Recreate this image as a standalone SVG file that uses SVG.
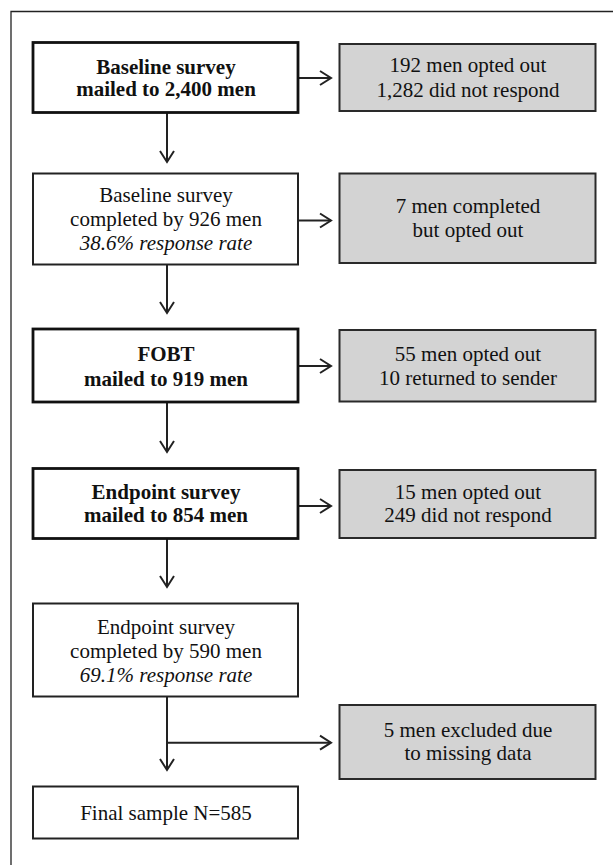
<svg xmlns="http://www.w3.org/2000/svg" width="613" height="865" viewBox="0 0 613 865">
<style>
text{font-family:"Liberation Serif","Times New Roman",serif;font-size:21px;fill:#111;text-anchor:middle}
.b{font-weight:bold}
.i{font-style:italic}
.thick{fill:#fff;stroke:#111;stroke-width:2.8}
.thin{fill:#fff;stroke:#222;stroke-width:2}
.gray{fill:#d3d3d3;stroke:#2a2a2a;stroke-width:2}
.conn{fill:none;stroke:#222;stroke-width:2;marker-end:url(#arr)}
</style>
<defs>
<marker id="arr" markerUnits="userSpaceOnUse" markerWidth="16" markerHeight="18" viewBox="0 0 16 18" refX="13" refY="9" orient="auto">
<path d="M2,2 L13,9 L2,16" fill="none" stroke="#222" stroke-width="2"/>
</marker>
</defs>
<rect width="613" height="865" fill="#fff"/>
<path d="M11,865 V11.5 H613" fill="none" stroke="#222" stroke-width="1.3"/>
<g id="connectors">
<path class="conn" d="M299,78 H331"/>
<path class="conn" d="M299,220.5 H331"/>
<path class="conn" d="M299,366 H331"/>
<path class="conn" d="M299,506 H331"/>
<path class="conn" d="M167,112 V162"/>
<path class="conn" d="M167,264 V313"/>
<path class="conn" d="M167,402 V452"/>
<path class="conn" d="M167,538 V587"/>
<path class="conn" d="M167,697 V770"/>
<path class="conn" d="M167,742.7 H331"/>
</g>
<g id="n1"><rect class="thick" x="33" y="42.5" width="265" height="70"/>
<text class="b" x="166" y="73.5">Baseline survey</text><text class="b" x="166" y="96">mailed to 2,400 men</text></g>
<g id="g1"><rect class="gray" x="339.5" y="44" width="256" height="67"/>
<text x="468" y="72">192 men opted out</text><text x="468" y="96.5">1,282 did not respond</text></g>
<g id="n2"><rect class="thin" x="33" y="173.5" width="265" height="91"/>
<text x="166" y="201.5">Baseline survey</text><text x="166" y="226">completed by 926 men</text><text class="i" x="166" y="250">38.6% response rate</text></g>
<g id="g2"><rect class="gray" x="339.5" y="173.5" width="256" height="89.5"/>
<text x="468" y="213.3">7 men completed</text><text x="468" y="237.3">but opted out</text></g>
<g id="n3"><rect class="thick" x="33" y="329" width="265" height="73"/>
<text class="b" x="166" y="361">FOBT</text><text class="b" x="166" y="386">mailed to 919 men</text></g>
<g id="g3"><rect class="gray" x="339.5" y="330" width="256" height="71.5"/>
<text x="468" y="361">55 men opted out</text><text x="468" y="384.5">10 returned to sender</text></g>
<g id="n4"><rect class="thick" x="33" y="468.5" width="265" height="70"/>
<text class="b" x="166" y="498.5">Endpoint survey</text><text class="b" x="166" y="521.7">mailed to 854 men</text></g>
<g id="g4"><rect class="gray" x="339.5" y="470" width="256" height="68"/>
<text x="468" y="498.5">15 men opted out</text><text x="468" y="521.7">249 did not respond</text></g>
<g id="n5"><rect class="thin" x="33" y="603.5" width="265" height="93"/>
<text x="166" y="634">Endpoint survey</text><text x="166" y="657.5">completed by 590 men</text><text class="i" x="166" y="681.5">69.1% response rate</text></g>
<g id="g5"><rect class="gray" x="339.5" y="705" width="256" height="74"/>
<text x="468" y="736.7">5 men excluded due</text><text x="468" y="760">to missing data</text></g>
<g id="n6"><rect class="thin" x="33" y="786.5" width="265" height="52"/>
<text x="166" y="819.5">Final sample N=585</text></g>
</svg>
